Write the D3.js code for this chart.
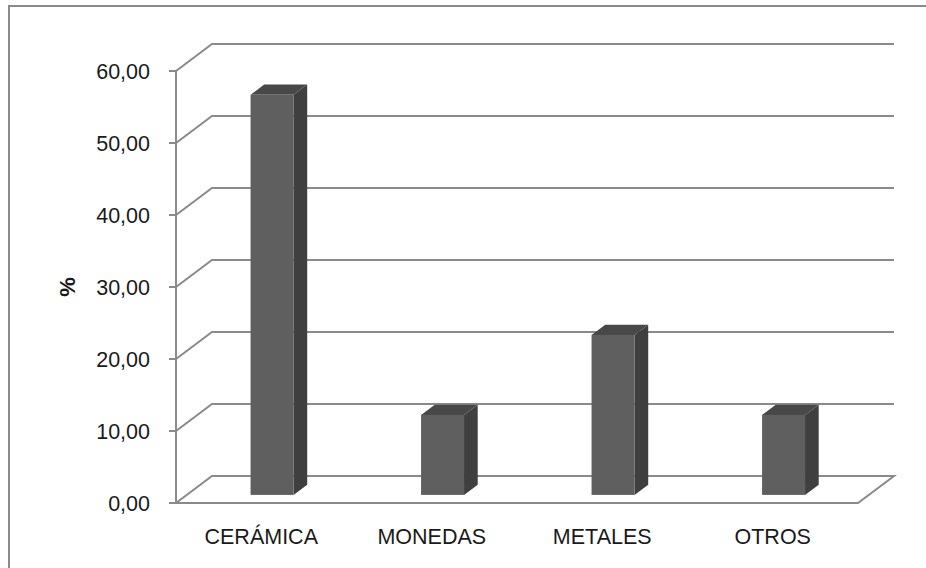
<!DOCTYPE html>
<html>
<head>
<meta charset="utf-8">
<script src="https://cdn.jsdelivr.net/npm/d3@7"></script>
<style>
  html, body { margin: 0; padding: 0; background: #fff; }
  svg { display: block; }
  text { font-family: "Liberation Sans", Arial, sans-serif; fill: #1a1a1a; }
</style>
</head>
<body>
<svg id="chart" width="926" height="568"></svg>
<script>
const categories = ["CERÁMICA", "MONEDAS", "METALES", "OTROS"];
const values = [55.56, 11.11, 22.22, 11.11];
const yTicks = [0, 10, 20, 30, 40, 50, 60];
const yLabel = "%";

const svg = d3.select("#chart");
const W = 926, H = 568;

// layout
const x0 = 176, x1 = 858, yBottom = 503, yTop = 71;
const depth = { dx: 36, dy: -27 };
const frontGap = 0.3, barDepth = 0.38;

const x = d3.scaleBand().domain(categories).range([x0, x1])
  .paddingInner(0.748).paddingOuter(0.374);
const xc = d3.scaleBand().domain(categories).range([x0, x1]).padding(0);
const y = d3.scaleLinear().domain([0, 60]).range([yBottom, yTop]);

const locale = d3.formatLocale({ decimal: ",", thousands: ".", grouping: [3], currency: ["", "€"] });
const fmt = locale.format(".2f");

const grid = "#8a8a8a";

// outer border (clipped on right/bottom)
svg.append("rect").attr("x", 9).attr("y", 6).attr("width", W + 20).attr("height", H + 20)
  .attr("fill", "none").attr("stroke", grid).attr("stroke-width", 2);

// gridlines (left wall diagonal + back wall horizontal)
const g = svg.append("g");
yTicks.filter(t => t > 0).forEach(t => {
  const yy = y(t);
  g.append("path")
    .attr("d", `M${x0},${yy} L${x0 + depth.dx},${yy + depth.dy} L${x1 + depth.dx},${yy + depth.dy}`)
    .attr("fill", "none").attr("stroke", grid).attr("stroke-width", 2);
});
// floor
g.append("path")
  .attr("d", `M${x0},${y(0)} L${x1},${y(0)} L${x1 + depth.dx},${y(0) + depth.dy} L${x0 + depth.dx},${y(0) + depth.dy} Z`)
  .attr("fill", "none").attr("stroke", grid).attr("stroke-width", 2).attr("stroke-linejoin", "miter");

// y axis line + ticks
g.append("line").attr("x1", x0).attr("x2", x0).attr("y1", y(0)).attr("y2", y(60))
  .attr("stroke", grid).attr("stroke-width", 2);
yTicks.forEach(t => {
  g.append("line").attr("x1", x0 - 7).attr("x2", x0).attr("y1", y(t)).attr("y2", y(t))
    .attr("stroke", grid).attr("stroke-width", 2);
  svg.append("text").attr("x", 150).attr("y", y(t)).attr("dy", "0.36em")
    .attr("text-anchor", "end").attr("font-size", 21.5).text(fmt(t));
});

// bars
const ox = depth.dx * frontGap, oy = depth.dy * frontGap;
const bx = depth.dx * barDepth, by = depth.dy * barDepth;
const bars = svg.append("g");
categories.forEach((c, i) => {
  const xl = x(c) + ox, xr = xl + x.bandwidth();
  const yb = y(0) + oy, yt = y(values[i]) + oy;
  // side
  bars.append("path")
    .attr("d", `M${xr},${yt} L${xr + bx},${yt + by} L${xr + bx},${yb + by} L${xr},${yb} Z`)
    .attr("fill", "#3f3f3f");
  // top
  bars.append("path")
    .attr("d", `M${xl},${yt} L${xl + bx},${yt + by} L${xr + bx},${yt + by} L${xr},${yt} Z`)
    .attr("fill", "#484848");
  // front
  bars.append("rect").attr("x", xl).attr("y", yt).attr("width", xr - xl).attr("height", yb - yt)
    .attr("fill", "#5f5f5f");
});

// category labels
categories.forEach(c => {
  svg.append("text").attr("x", xc(c) + xc.bandwidth() / 2).attr("y", 544)
    .attr("text-anchor", "middle").attr("font-size", 21.5).text(c);
});

// y label
svg.append("text").attr("transform", `translate(75,287) rotate(-90)`)
  .attr("text-anchor", "middle").attr("font-size", 22).attr("font-weight", "bold").text(yLabel);
</script>
</body>
</html>
